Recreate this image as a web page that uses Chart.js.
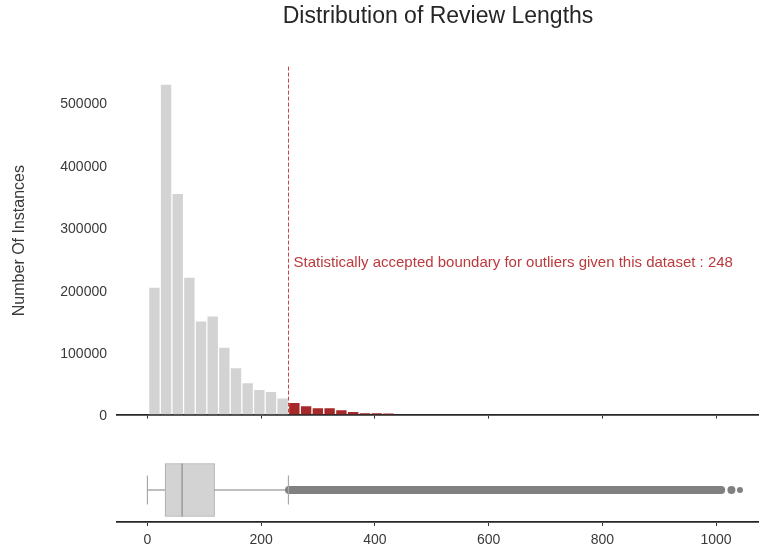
<!DOCTYPE html>
<html><head><meta charset="utf-8">
<script src="https://cdn.jsdelivr.net/npm/chart.js@4"></script>
<style>
html,body{margin:0;padding:0;background:#fff;}
#wrap{position:relative;width:759px;height:554px;overflow:hidden;background:#fff;}
#top{position:absolute;left:0;top:0;}
#bot{position:absolute;left:0;top:424px;}
</style></head><body>
<div id="wrap">
<canvas id="top" width="759" height="433"></canvas>
<canvas id="bot" width="759" height="130"></canvas>
</div>
<script>
// ---- data ----
const chartTitle = 'Distribution of Review Lengths';
const yAxisTitle = 'Number Of Instances';
const xTickValues = [0, 200, 400, 600, 800, 1000];
const yTickValues = [0, 100000, 200000, 300000, 400000, 500000];
const xRange = [-53.5, 1075.5];
const yMax = 557000;

const inlierBinCenters = [12.3, 32.8, 53.3, 73.8, 94.3, 114.8, 135.3, 155.8, 176.3, 196.8, 217.3, 237.8];
const inlierCounts = [203000, 528000, 353000, 219000, 149000, 157000, 107000, 74000, 50000, 39500, 36000, 25700];
const outlierBinCenters = [258.4, 279.1, 299.7, 320.4, 341.1, 361.8, 382.5, 403.2, 423.9];
const outlierCounts = [18600, 13300, 10100, 10100, 6900, 4300, 2100, 2000, 1600];

const outlierBoundary = 248;
const annotationY = 237000;
const annotationText = 'Statistically accepted boundary for outliers given this dataset : ' + outlierBoundary;

// boxplot summary
const whiskerLow = 0;
const q1 = 31;
const median = 61;
const q3 = 118;
const whiskerHigh = outlierBoundary;
const outlierDenseRange = [249, 1009];
const outlierSparse = [1027, 1042];

// ---- styling ----
const FONT = '"Liberation Sans", Arial, Helvetica, sans-serif';
Chart.defaults.font.family = FONT;
Chart.defaults.devicePixelRatio = 1;

const plainNumber = v => String(v);

const xAxisCommon = {
  type: 'linear',
  min: xRange[0],
  max: xRange[1],
  offset: false,
  afterBuildTicks: s => { s.ticks = xTickValues.map(v => ({value: v})); },
  grid: { display: true, drawOnChartArea: false, drawTicks: true, tickLength: 4, color: '#333', lineWidth: 1, offset: false },
  border: { display: true, color: '#262626', width: 1.8 }
};

const boundaryPlugin = {
  id: 'boundary',
  afterDatasetsDraw(chart) {
    const {ctx, chartArea, scales} = chart;
    const px = Math.round(scales.x.getPixelForValue(outlierBoundary)) + 0.5;
    ctx.save();
    ctx.strokeStyle = '#cc4444';
    ctx.lineWidth = 1;
    ctx.setLineDash([4, 2]);
    ctx.beginPath();
    ctx.moveTo(px, chartArea.top);
    ctx.lineTo(px, chartArea.bottom);
    ctx.stroke();
    ctx.setLineDash([]);
    ctx.fillStyle = '#bb3a3e';
    ctx.font = '15px ' + FONT;
    ctx.textBaseline = 'alphabetic';
    ctx.textAlign = 'left';
    ctx.fillText(annotationText, px + 5, scales.y.getPixelForValue(annotationY));
    ctx.restore();
  }
};

new Chart(document.getElementById('top'), {
  type: 'bar',
  data: {
    datasets: [
      { data: inlierBinCenters.map((c, i) => ({x: c, y: inlierCounts[i]})), backgroundColor: '#d3d3d3', grouped: false,
        barPercentage: 0.89, categoryPercentage: 1 },
      { data: outlierBinCenters.map((c, i) => ({x: c, y: outlierCounts[i]})), backgroundColor: '#a62828', grouped: false,
        barPercentage: 0.89, categoryPercentage: 1 }
    ]
  },
  options: {
    responsive: false,
    animation: false,
    events: [],
    layout: { autoPadding: false, padding: { left: 0, right: 0, top: 0, bottom: 0 } },
    plugins: {
      legend: { display: false },
      tooltip: { enabled: false },
      title: { display: true, text: chartTitle, fullSize: false, color: '#262626',
        font: { size: 23, weight: 'normal', family: FONT }, padding: { top: 3, bottom: 36 } }
    },
    scales: {
      x: Object.assign({}, xAxisCommon, {
        ticks: { display: false },
        afterFit: s => { s.height = 10; }
      }),
      y: {
        type: 'linear', min: 0, max: yMax,
        afterBuildTicks: s => { s.ticks = yTickValues.map(v => ({value: v})); },
        grid: { display: false, drawTicks: false },
        border: { display: false },
        ticks: { color: '#3a3a3a', font: { size: 14, family: FONT }, padding: 10, labelOffset: 2, callback: plainNumber },
        title: { display: true, text: yAxisTitle, color: '#3a3a3a', font: { size: 16, family: FONT }, padding: { top: 10, bottom: 0 } },
        afterFit: s => { s.width = 117; }
      }
    }
  },
  plugins: [boundaryPlugin]
});

new Chart(document.getElementById('bot'), {
  type: 'bar',
  data: {
    datasets: [
      { type: 'scatter', order: 0, data: [{x: median, y: 0}], pointStyle: 'line', pointRotation: 90, pointRadius: 26.5,
        pointBorderColor: '#9a9a9a', pointBorderWidth: 1.5 },
      { type: 'bar', order: 1, indexAxis: 'y', grouped: false, data: [{x: [q1, q3], y: 0}], barThickness: 53,
        backgroundColor: '#d3d3d3', borderColor: '#a8a8a8', borderWidth: 1, borderSkipped: false },
      { type: 'scatter', order: 2, data: [{x: whiskerLow, y: 0}, {x: whiskerHigh, y: 0}], pointStyle: 'line', pointRotation: 90,
        pointRadius: 14.5, pointBorderColor: '#a8a8a8', pointBorderWidth: 1.2 },
      { type: 'bar', order: 3, indexAxis: 'y', grouped: false, data: [{x: [whiskerLow, whiskerHigh], y: 0}], barThickness: 1,
        backgroundColor: '#a8a8a8', borderWidth: 0 },
      { type: 'line', order: 2, indexAxis: 'y', data: [{x: outlierDenseRange[0], y: 0}, {x: outlierDenseRange[1], y: 0}],
        borderColor: '#808080', borderWidth: 8, borderCapStyle: 'round', pointRadius: 0, fill: false },
      { type: 'scatter', order: 2, data: outlierSparse.map(v => ({x: v, y: 0})), pointStyle: 'circle', pointRadius: [4, 3],
        pointBackgroundColor: '#808080', pointBorderWidth: 0 }
    ]
  },
  options: {
    responsive: false,
    animation: false,
    events: [],
    indexAxis: 'y',
    layout: { autoPadding: false, padding: { left: 117, right: 0, top: 34, bottom: 0 } },
    plugins: { legend: { display: false }, tooltip: { enabled: false } },
    scales: {
      x: Object.assign({}, xAxisCommon, {
        ticks: { color: '#3a3a3a', font: { size: 14, family: FONT }, padding: 6, callback: plainNumber },
        afterFit: s => { s.height = 32; }
      }),
      y: { type: 'linear', min: -1, max: 1, display: false, offset: false }
    }
  }
});
</script>
</body></html>
